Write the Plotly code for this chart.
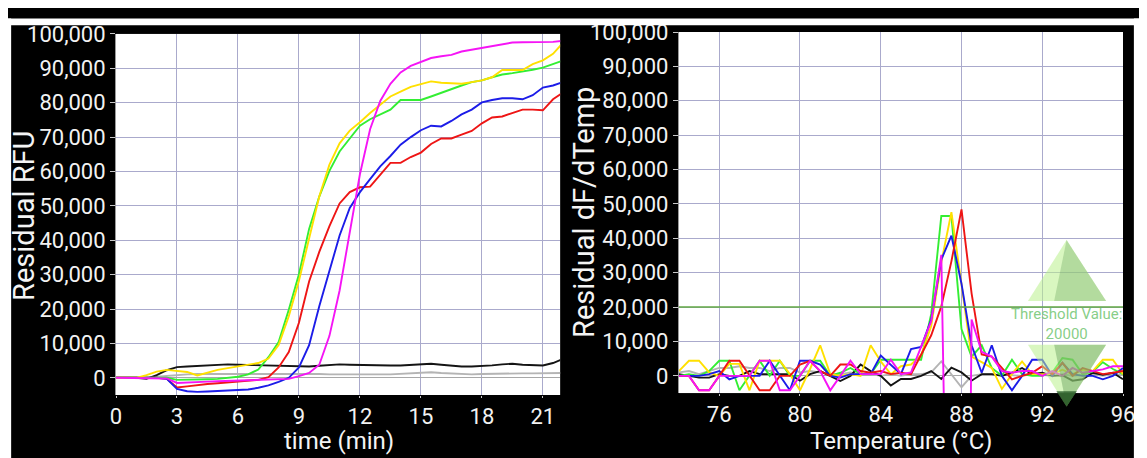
import plotly.graph_objects as go

# ---------------- data: amplification (left) ----------------
time_min = [0, 0.5, 1, 1.5, 2, 2.5, 3, 3.5, 4, 4.5, 5, 5.5, 6, 6.5, 7, 7.5, 8, 8.5, 9, 9.5,
            10, 10.5, 11, 11.5, 12, 12.5, 13, 13.5, 14, 14.5, 15, 15.5, 16, 16.5, 17, 17.5,
            18, 18.5, 19, 19.5, 20, 20.5, 21, 21.5, 22]

amp_black = [0, 0, 0, -300, 800, 2200, 3100, 3300, 3500, 3600, 3800, 3900, 3800, 3700, 3600,
             3500, 3500, 3400, 3300, 3300, 3500, 3800, 3900, 3800, 3700, 3600, 3700, 3600, 3600,
             3700, 3800, 4100, 3800, 3500, 3300, 3300, 3400, 3600, 3900, 4100, 3800, 3600, 3600,
             4300, 5500]
amp_gray = [0, 0, 0, 0, 300, 600, 900, 1000, 1100, 1100, 1200, 1200, 1100, 1200, 1200, 1300,
            1200, 1300, 1300, 1200, 1100, 1000, 1100, 1000, 1000, 1100, 1000, 1000, 1100, 1200,
            1300, 1600, 1400, 1200, 1000, 1000, 1100, 1200, 1300, 1300, 1300, 1300, 1300, 1300, 1400]
amp_yellow = [0, 0, 0, 800, 1800, 2300, 2000, 1700, 700, 1600, 2300, 2800, 3300, 3700, 4300,
              5600, 9500, 17900, 28200, 40500, 52700, 62000, 68200, 71900, 74300, 77000, 79400,
              81800, 83200, 84600, 85400, 86200, 85800, 85700, 85500, 86000, 86500, 87400, 89500,
              89500, 89500, 91200, 92300, 94200, 97500]
amp_green = [0, 0, 0, 0, 0, 0, -600, -600, -500, -400, -300, -100, 300, 1000, 2400, 6000, 10400,
             19800, 30100, 43300, 52700, 60200, 65800, 69600, 73300, 75200, 76600, 78000, 80800,
             80800, 80800, 81800, 82900, 84100, 85000, 86000, 86500, 87400, 88200, 88600, 89000,
             89600, 90200, 91200, 92300]
amp_red = [0, 0, 0, 0, 0, -300, -2800, -2500, -2100, -1800, -1600, -1400, -1200, -900, -600, 200,
           3000, 7500, 16000, 28000, 36600, 44100, 50700, 54000, 55400, 55600, 59000, 62500, 62500,
           64200, 65500, 68000, 69600, 69600, 70700, 71800, 74000, 75700, 76000, 77000, 78000,
           78000, 77800, 81000, 83000]
amp_blue = [0, 0, 0, 0, 0, -300, -3200, -3900, -4100, -4000, -3900, -3800, -3600, -3400, -2900,
            -2200, -1200, 0, 3000, 9500, 20800, 31100, 41400, 49400, 54000, 57800, 61500, 64500,
            67800, 70000, 72000, 73300, 73100, 74700, 76600, 78000, 80100, 80800, 81300, 81300,
            81000, 82200, 84400, 85000, 86000]
amp_magenta = [0, 0, 0, 0, 0, -200, -1500, -1300, -1200, -1100, -1000, -900, -900, -800, -700,
               -600, -500, -300, 500, 1400, 3800, 12200, 25400, 42300, 59200, 72300, 80500, 85500,
               88800, 90700, 91800, 93000, 93500, 93900, 94900, 95400, 95900, 96300, 96800, 97500,
               97600, 97600, 97600, 97700, 98000]

# ---------------- data: melt derivative (right) ----------------
temp_c = [74, 74.5, 75, 75.5, 76, 76.5, 77, 77.5, 78, 78.5, 79, 79.5, 80, 80.5, 81, 81.5, 82,
          82.5, 83, 83.5, 84, 84.5, 85, 85.5, 86, 86.5, 87, 87.5, 88, 88.5, 89, 89.5, 90, 90.5,
          91, 91.5, 92, 92.5, 93, 93.5, 94, 94.5, 95, 95.5, 96]

melt_black = [500, 0, -500, -500, 500, 0, 0, 1400, 500, 500, 500, 500, -1400, 500, 1400, 0,
              -1500, 0, 3300, 1400, 0, -2800, -900, -900, 0, 1400, -900, 2400, 1000, -1400, 500,
              500, 0, 900, 2300, 500, 900, 0, 200, -1400, -1000, 900, 300, 900, -1000]
melt_gray = [1000, 1400, 500, 1400, 2300, 2300, 2800, 2300, 2300, 1400, 2300, 2300, 1000, 1400,
             1000, 500, 500, 1000, 500, 500, 0, 500, 0, 500, 500, 1000, 4200, 500, -3300, 0, 500,
             500, 300, 300, 0, 500, 300, 0, 500, 0, 300, 500, 0, 500, 300]
melt_yellow = [1400, 4400, 4400, 1000, 0, 3500, 3500, -4200, 4400, 4400, 4400, 500, -4200, 2000,
               8900, 500, 0, 500, 0, 8900, 4200, 500, 2800, 3300, 6000, 14500, 33000, 47600,
               26000, 5600, 4000, 2300, -3800, 500, 4200, 500, 500, 500, 1800, 500, 1800, 1400,
               4700, 4700, 500]
melt_green = [0, 500, 0, 1400, 4400, 4400, -4200, 0, 4400, 0, 4400, 0, 0, 4400, 4400, 0, 900,
              2300, 500, 500, 4700, 4700, 4700, 4700, 4700, 18000, 46500, 46500, 13600, 5600,
              8900, 2300, 0, 4700, 500, 0, 0, 1000, 5200, 4700, 500, 1200, 4000, 2000, 500]
melt_red = [0, 0, -4200, -4200, 0, 4400, 4400, 0, -4200, -4200, 0, 0, 3300, 4400, 1400, 0, 3300,
            3300, 1400, 900, 1400, 500, 900, 500, 6300, 11800, 20200, 33300, 48400, 24000, 6200,
            5600, 2300, -1000, 0, 900, 2800, 500, 3800, 0, 2300, 1400, 500, 900, 1400]
melt_blue = [0, 0, 0, 500, 1400, -1000, 0, 0, 0, 4400, 0, -4200, 4400, 4400, 3300, 0, -500, 500,
             500, 500, 5900, 3300, 500, 7800, 8400, 16400, 33800, 40800, 26800, 8900, 900, 8900,
             0, -4200, 0, 4700, 4700, 0, 3800, 500, 0, 0, -1000, 0, 2300]
melt_magenta = [0, 0, -4200, -4200, 0, 0, 0, 0, 4400, 4400, -4200, -4200, 0, 4400, 1400, -4200,
                0, 4400, 500, 500, 500, 4700, 500, 1000, 8400, 15900, 35200, -300000, -300000,
                16400, 7000, 5600, 1400, 900, 1400, 1400, 0, 1400, 0, 2300, 900, 1400, 1900,
                2800, 2800]

threshold_value = 20000

# tick labels
time_ticks = [0, 3, 6, 9, 12, 15, 18, 21]
temp_ticks = [76, 80, 84, 88, 92, 96]
y_ticks = [0, 10000, 20000, 30000, 40000, 50000, 60000, 70000, 80000, 90000, 100000]

colors = {
    "black": "#141414", "gray": "#b4b4b4", "yellow": "#ffe000", "green": "#33ee33",
    "red": "#ee1515", "blue": "#1c1ce8", "magenta": "#f514f5",
}

amp_series = [("gray", amp_gray), ("black", amp_black), ("red", amp_red), ("blue", amp_blue),
              ("green", amp_green), ("yellow", amp_yellow), ("magenta", amp_magenta)]
melt_series = [("gray", melt_gray), ("black", melt_black), ("green", melt_green),
               ("yellow", melt_yellow), ("blue", melt_blue), ("red", melt_red),
               ("magenta", melt_magenta)]

fig = go.Figure()
for name, vals in amp_series:
    fig.add_trace(go.Scatter(x=time_min, y=vals, mode="lines", name=name,
                             line=dict(color=colors[name], width=1.9), xaxis="x", yaxis="y"))
for name, vals in melt_series:
    fig.add_trace(go.Scatter(x=temp_c, y=vals, mode="lines", name=name,
                             line=dict(color=colors[name], width=1.9), xaxis="x2", yaxis="y2"))
fig.add_trace(go.Scatter(x=[temp_c[0], temp_c[-1]], y=[threshold_value, threshold_value],
                         mode="lines", line=dict(color="#62a845", width=1.5),
                         xaxis="x2", yaxis="y2"))

# page has an 8px body margin; figure is sized to fill the rest of the window
W, H = 1139, 450
ML, MR, MT, MB = 108, 13, 12, 63
PW, PH = W - ML - MR, H - MT - MB

grid = "#aaaacc"
tickfont = dict(family="Roboto, sans-serif", size=22, color="#f2f2f2")
common_y = dict(range=[-5000, 100000], tickvals=y_ticks, tickformat=",d", showgrid=True,
                gridcolor=grid, gridwidth=1, zeroline=True, zerolinecolor="#a8a8a8",
                zerolinewidth=1.2, ticks="outside", ticklen=5, tickcolor="#c8c8c8",
                tickfont=tickfont, showline=True, linecolor="#9a9a9a", linewidth=1)
common_x = dict(showgrid=True, gridcolor=grid, gridwidth=1, zeroline=False, ticks="outside",
                ticklen=2, tickcolor="#c8c8c8", tickfont=tickfont, showline=False)

fig.update_layout(
    width=W, height=H, showlegend=False,
    paper_bgcolor="black", plot_bgcolor="white",
    margin=dict(l=ML, r=MR, t=MT, b=MB, pad=0),
    xaxis=dict(domain=[0, 449 / PW], range=[0, 21.85], tickvals=time_ticks, anchor="y", **common_x),
    yaxis=dict(domain=[0, 373 / PH], anchor="x", **common_y),
    xaxis2=dict(domain=[569 / PW, 1], range=[74, 96], tickvals=temp_ticks, anchor="y2", **common_x),
    yaxis2=dict(domain=[2 / PH, 1], anchor="x2", **common_y),
)

# white outer strips (top, left, right edge) to match the framing
fig.add_shape(type="rect", xref="paper", yref="paper", x0=-ML / PW - 0.01, x1=(W - ML) / PW + 0.01,
              y0=(H - MB - 5) / PH, y1=(H - MB + 2) / PH, fillcolor="white", line_width=0,
              layer="above")
fig.add_shape(type="rect", xref="paper", yref="paper", x0=-ML / PW - 0.01, x1=(2 - ML) / PW,
              y0=-MB / PH - 0.02, y1=(H - MB + 2) / PH, fillcolor="white", line_width=0,
              layer="above")
fig.add_shape(type="rect", xref="paper", yref="paper", x0=(W - 2 - ML) / PW, x1=(W - ML) / PW + 0.01,
              y0=-MB / PH - 0.02, y1=(H - MB + 2) / PH, fillcolor="white", line_width=0,
              layer="above")

# threshold handle decorations (triangles) in right-plot domain coords
def tri(pts, color):
    path = "M " + " L ".join(f"{x},{y}" for x, y in pts) + " Z"
    fig.add_shape(type="path", xref="x2 domain", yref="y2 domain", path=path,
                  fillcolor=color, line_width=0, layer="above")

tri([(0.786, 0.2547), (0.873, 0.4236), (0.962, 0.2547)], "rgba(185,240,140,0.55)")
tri([(0.845, 0.2547), (0.873, 0.4236), (0.962, 0.2547)], "rgba(110,165,95,0.35)")
tri([(0.786, 0.134), (0.962, 0.134), (0.873, -0.0375)], "rgba(185,240,140,0.55)")
tri([(0.845, 0.134), (0.962, 0.134), (0.873, -0.0375)], "rgba(90,150,80,0.40)")
tri([(0.850, 0.005), (0.896, 0.005), (0.873, -0.0375)], "rgba(40,90,40,0.8)")

fig.add_annotation(xref="x2 domain", yref="y2 domain", x=0.873, y=0.19,
                   text="Threshold Value:<br>20000", showarrow=False,
                   font=dict(family="Roboto, sans-serif", size=15, color="rgba(120,200,120,0.9)"),
                   xanchor="center", yanchor="middle", align="center")

# axis titles (positions given in figure pixels, converted to paper fractions)
def px(x):
    return (x - ML) / PW

def py(y):
    return (H - MB - y) / PH

title_font_y = dict(family="Roboto, sans-serif", size=29, color="#f4f4f4")
title_font_x = dict(family="Roboto, sans-serif", size=24, color="#f4f4f4")
fig.add_annotation(xref="paper", yref="paper", x=px(15), y=py(202),
                   text="Residual RFU", textangle=-90, showarrow=False, font=title_font_y,
                   xanchor="center", yanchor="middle")
fig.add_annotation(xref="paper", yref="paper", x=px(581), y=py(198),
                   text="Residual dF/dTemp", textangle=-90, showarrow=False, font=title_font_y,
                   xanchor="center", yanchor="middle")
fig.add_annotation(xref="paper", yref="paper", x=px(333), y=py(435),
                   text="time (min)", showarrow=False, font=title_font_x,
                   xanchor="center", yanchor="middle")
fig.add_annotation(xref="paper", yref="paper", x=px(902), y=py(435),
                   text="Temperature (°C)", showarrow=False, font=title_font_x,
                   xanchor="center", yanchor="middle")

fig.write_html("out.html")
